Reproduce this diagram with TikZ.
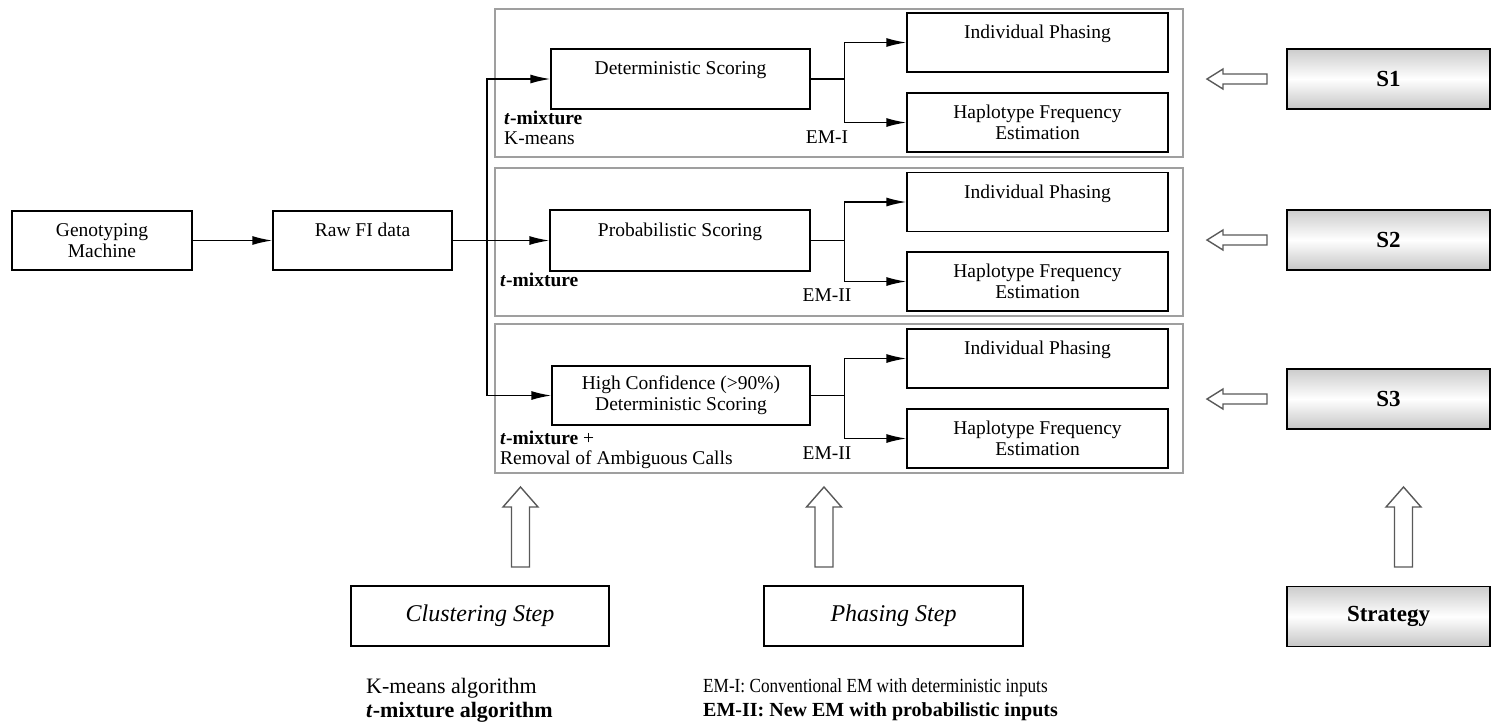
\documentclass[tikz,border=0pt]{standalone}
\usepackage{fontspec}
\usepackage{graphicx}
\setmainfont{Liberation Serif}
\usetikzlibrary{arrows.meta,calc}
\newcommand\hollowL[1]{\draw[hollow, shift={(0,#1)}] (1207,0) -- (1223,-10) -- (1223,-5) -- (1267,-5) -- (1267,5) -- (1223,5) -- (1223,10) -- cycle;}
\newcommand\hollowU[1]{\draw[hollow, shift={(#1,0)}] (0,487) -- (-17.5,507) -- (-9,507) -- (-9,567) -- (9,567) -- (9,507) -- (17.5,507) -- cycle;}
\begin{document}
\begin{tikzpicture}[x=1pt,y=-1pt,
  blk/.style={draw, line width=1.4pt, inner sep=0pt, align=center, font=\fontsize{19.5}{21}\selectfont},
  frm/.style={draw=gray!75, line width=1.5pt, inner sep=0pt},
  sbox/.style={draw, line width=1.1pt, inner sep=0pt, top color=gray!40, bottom color=gray!45, middle color=white, minimum width=203pt, minimum height=60pt, font=\fontsize{23}{26}\selectfont\bfseries},
  arr/.style={-{Latex[length=20pt,width=9pt]}, line width=1.4pt},
  ln/.style={line width=1.4pt},
  hollow/.style={draw=black!65, line width=1.4pt, fill=white},
  lbl/.style={font=\fontsize{19.5}{21}\selectfont, inner sep=0pt},
  btm/.style={inner sep=0pt, align=left}]
\useasboundingbox (0,0) rectangle (1495,723);
% frames
\node[frm, minimum width=688pt, minimum height=148pt] (f1) at (839,83) {};
\node[frm, minimum width=688pt, minimum height=148pt] (f2) at (839,242) {};
\node[frm, minimum width=688pt, minimum height=149pt] (f3) at (839,398.5) {};
% left boxes
\node[blk, minimum width=180pt, minimum height=59pt] (gm) at (102,240.5) {Genotyping\\Machine};
\node[blk, minimum width=179pt, minimum height=59pt] (raw) at (362.5,240.5) {Raw FI data\\\phantom{X}};
% scoring boxes
\node[blk, minimum width=259pt, minimum height=60pt] (ds) at (680.5,79) {Deterministic Scoring\\\phantom{X}};
\node[blk, minimum width=260pt, minimum height=61pt] (ps) at (680,240.5) {Probabilistic Scoring\\\phantom{X}};
\node[blk, minimum width=258pt, minimum height=59pt] (hc) at (681,395.5) {High Confidence (>90\%)\\Deterministic Scoring};
% phasing boxes
\foreach \n/\y in {1/42.5,2/202,3/358.5}{
  \node[blk, minimum width=261pt, minimum height=59pt] (ip\n) at (1037.5,\y) {Individual Phasing\\\phantom{X}};
}
\foreach \n/\y in {1/122.5,2/281.5,3/438.5}{
  \node[blk, minimum width=261pt, minimum height=59pt] (hf\n) at (1037.5,\y) {Haplotype Frequency\\Estimation};
}
% strategy boxes
\node[sbox] (s1) at (1388.5,79) {S1};
\node[sbox] (s2) at (1388.5,240) {S2};
\node[sbox] (s3) at (1388.5,399) {S3};
\node[sbox] (st) at (1388.5,616.5) {Strategy};
% bottom boxes
\node[blk, minimum width=258pt, minimum height=60pt, font=\fontsize{24}{26}\selectfont\itshape] (cs) at (480,616) {Clustering Step};
\node[blk, minimum width=259pt, minimum height=60pt, font=\fontsize{24}{26}\selectfont\itshape] (phs) at (893.5,616) {Phasing Step};
% connectors
\draw[arr] (gm.east) -- (raw.west);
\draw[arr] (raw.east) -- (ps.west);
\coordinate (j) at (487,240.5);
\draw[arr] (j) |- (ds.west);
\draw[arr] (j) |- (hc.west);
\foreach \s/\n in {ds/1,ps/2,hc/3}{
  \coordinate (b\n) at ($(\s.east)+(34,0)$);
  \draw[ln] (\s.east) -- (b\n);
  \draw[arr] (b\n) |- (ip\n.west);
  \draw[arr] (b\n) |- (hf\n.west);
}
% frame labels
\node[lbl, anchor=west] (l1a) at (504,118) {\textbf{\textit{t}-mixture}};
\node[lbl, anchor=west] (l1b) at (504,138) {K-means};
\node[lbl] (em1) at (827,137) {EM-I};
\node[lbl, anchor=west] (l2a) at (500,280) {\textbf{\textit{t}-mixture}};
\node[lbl] (em2) at (827,295) {EM-II};
\node[lbl, anchor=west] (l3a) at (500,438) {\textbf{\textit{t}-mixture} +};
\node[lbl, anchor=west] (l3b) at (500,460) {Removal of Ambiguous Calls};
\node[lbl] (em3) at (827,453) {EM-II};
% hollow arrows
\hollowL{79}
\hollowL{240}
\hollowL{399}
\hollowU{520.5}
\hollowU{824}
\hollowU{1403.5}
% bottom legends
\node[btm, anchor=west, font=\fontsize{22}{24}\selectfont] (leg1) at (366,700) {K-means algorithm\\\textbf{\textit{t}-mixture algorithm}};
\node[btm, anchor=west, font=\fontsize{20}{24}\selectfont] (leg2) at (703,700) {\scalebox{0.86}[1]{EM-I: Conventional EM with deterministic inputs}\\\textbf{EM-II: New EM with probabilistic inputs}};
\end{tikzpicture}
\end{document}
